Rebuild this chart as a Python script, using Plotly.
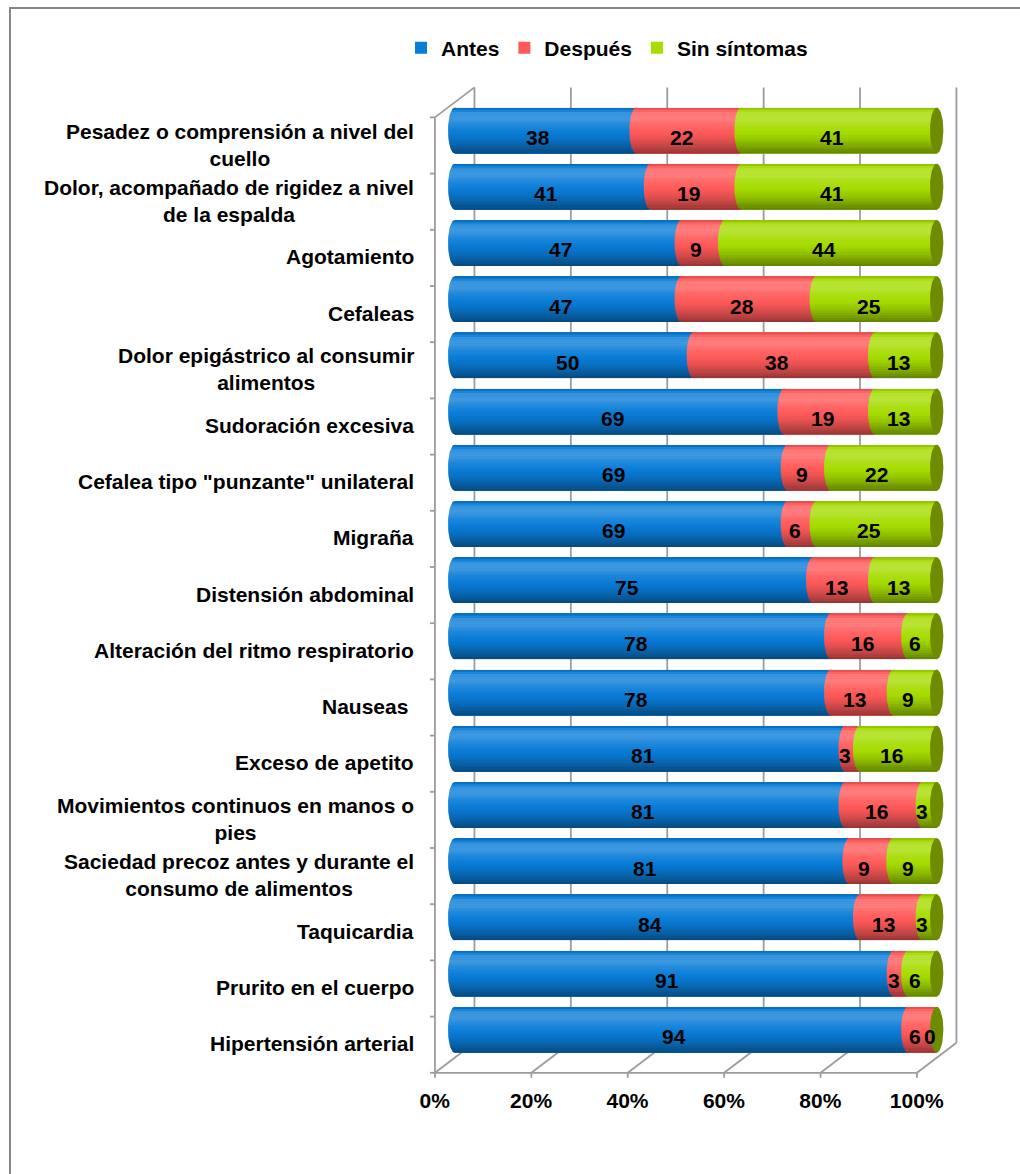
import numpy as np
import plotly.graph_objects as go

# ---- data -------------------------------------------------------------
categories = [
    "Pesadez o comprensión a nivel del<br>cuello",
    "Dolor, acompañado de rigidez a nivel<br>de la espalda",
    "Agotamiento",
    "Cefaleas",
    "Dolor epigástrico al consumir<br>alimentos",
    "Sudoración excesiva",
    "Cefalea tipo \"punzante\" unilateral",
    "Migraña",
    "Distensión abdominal",
    "Alteración del ritmo respiratorio",
    "Nauseas\u00a0",
    "Exceso de apetito",
    "Movimientos continuos en manos o<br>pies",
    "Saciedad precoz antes y durante el<br>consumo de alimentos",
    "Taquicardia",
    "Prurito en el cuerpo",
    "Hipertensión arterial",
]
antes = [38, 41, 47, 47, 50, 69, 69, 69, 75, 78, 78, 81, 81, 81, 84, 91, 94]
despues = [22, 19, 9, 28, 38, 19, 9, 6, 13, 16, 13, 3, 16, 9, 13, 3, 6]
sin_sintomas = [41, 41, 44, 25, 13, 13, 22, 25, 13, 6, 9, 16, 3, 9, 3, 6, 0]
series_names = ["Antes", "Después", "Sin síntomas"]
x_ticks = [0, 20, 40, 60, 80, 100]
x_tick_labels = ["0%", "20%", "40%", "60%", "80%", "100%"]

# ---- page / plot geometry (pixels) ------------------------------------
W, H = 1020, 1174
ML, MR, MT, MB = 420, 50, 80, 92
plot_w = W - ML - MR
plot_h = H - MT - MB

PX_PER_PCT = 4.82      # horizontal scale of the percent axis
X0_PX = 454.7          # pixel position of 0 %
ROW_PX = 56.2          # distance between rows
ROW0_PX = 130.5        # centre of the first row
BAR_W = 46 / ROW_PX    # cylinder thickness in row units
CAP_A = 6.7 / PX_PER_PCT   # half width of the elliptic ends
DX = 19.75 / PX_PER_PCT    # half depth of the 3-D box (x)
DY = 15 / ROW_PX           # half depth of the 3-D box (y)
TICK_X = 5 / PX_PER_PCT
TICK_Y = 5 / ROW_PX

x_range = [(ML - X0_PX) / PX_PER_PCT, (W - MR - X0_PX) / PX_PER_PCT]
y_range = [(MT + plot_h - ROW0_PX) / ROW_PX, (MT - ROW0_PX) / ROW_PX]

n = len(categories)
rows = list(range(n))
table = np.array([antes, despues, sin_sintomas], dtype=float)
pct = table / table.sum(axis=0) * 100
starts = np.vstack([np.zeros(n), np.cumsum(pct, axis=0)[:-1]])

colors = ["#0A7DD8", "#FF5A5A", "#A6DC00"]
cap_color = "#6E8C00"
line_col = "#9C9C9C"
FONT = "Liberation Sans, Arial, sans-serif"

fig = go.Figure()

# stacked 100 % bars
for name, vals, col in zip(series_names, [antes, despues, sin_sintomas], colors):
    fig.add_trace(go.Bar(
        y=rows, x=vals, name=name, orientation="h", width=BAR_W,
        marker=dict(color=col, line=dict(width=0)), hoverinfo="skip",
    ))


def ellipse(cx, cy, a, b, m=60):
    th = np.linspace(0, 2 * np.pi, m)
    return list(cx + a * np.cos(th)), list(cy + b * np.sin(th))


# rounded left ends of every segment
for s in range(3):
    xs, ys = [], []
    for i in rows:
        if table[s, i] <= 0:
            continue
        ex, ey = ellipse(starts[s, i], i, CAP_A, BAR_W / 2)
        xs += ex + [None]
        ys += ey + [None]
    fig.add_trace(go.Scatter(
        x=xs, y=ys, mode="lines", line=dict(width=0), fill="toself",
        fillcolor=colors[s], hoverinfo="skip", showlegend=False,
    ))

# cylinder shading: light band near the top, darkening towards the bottom
prof_f = [0.0, 0.05, 0.12, 0.25, 0.40, 0.55, 0.70, 0.85, 1.0]
prof_v = [-0.20, 0.0, 0.18, 0.22, 0.08, 0.0, -0.10, -0.25, -0.42]
edges = np.linspace(0, 1, 21)
for k in range(len(edges) - 1):
    f0, f1 = edges[k], edges[k + 1]
    v = float(np.interp((f0 + f1) / 2, prof_f, prof_v))
    if abs(v) < 0.01:
        continue
    fc = f"rgba(255,255,255,{v:.3f})" if v > 0 else f"rgba(0,0,0,{-v:.3f})"
    fs = np.linspace(f0, f1, 6)
    t = 2 * fs - 1
    xl = -CAP_A * np.sqrt(np.clip(1 - t ** 2, 0, None))
    xs, ys = [], []
    for i in rows:
        yy = i - BAR_W / 2 + fs * BAR_W
        xs += list(xl) + [100, 100, None]
        ys += list(yy) + [yy[-1], yy[0], None]
    fig.add_trace(go.Scatter(
        x=xs, y=ys, mode="lines", line=dict(width=0), fill="toself",
        fillcolor=fc, hoverinfo="skip", showlegend=False,
    ))

# dark elliptic caps at the right end
xs, ys = [], []
for i in rows:
    ex, ey = ellipse(100, i, CAP_A, BAR_W / 2)
    xs += ex + [None]
    ys += ey + [None]
fig.add_trace(go.Scatter(
    x=xs, y=ys, mode="lines", line=dict(width=0), fill="toself",
    fillcolor=cap_color, hoverinfo="skip", showlegend=False,
))

# value labels
for s in range(3):
    for i in rows:
        fig.add_annotation(
            x=starts[s, i] + pct[s, i] / 2, y=i, xref="x", yref="y",
            text=str(int(table[s, i])), showarrow=False,
            xshift=-7, yshift=-7,
            font=dict(size=21, color="black", family=FONT, weight="bold"),
        )

# category labels (centred lines, right aligned block)
for i, lab in enumerate(categories):
    fig.add_annotation(
        x=(416 - ML) / plot_w, xref="paper", y=i, yref="y", yshift=-14,
        text=lab, xanchor="right", yanchor="middle", align="center",
        showarrow=False,
        font=dict(size=21, color="black", family=FONT, weight="bold"),
    )

# 3-D box: back wall gridlines, floor and left wall
shapes = []
def seg(x0, y0, x1, y1):
    shapes.append(dict(type="line", xref="x", yref="y", x0=x0, y0=y0,
                       x1=x1, y1=y1, layer="below",
                       line=dict(color=line_col, width=1.8)))

top, bot = -0.5, n - 0.5
for v in x_ticks:
    seg(v + DX, top - DY, v + DX, bot - DY)          # back wall gridline
    seg(v - DX, bot + DY, v + DX, bot - DY)          # floor line
    seg(v - DX, bot + DY, v - DX, bot + DY + TICK_Y)  # floor tick
seg(-DX, bot + DY, 100 - DX, bot + DY)               # front floor edge
seg(-DX, top + DY, -DX, bot + DY)                    # left wall front edge
seg(-DX, top + DY, DX, top - DY)                     # left wall top edge
for k in range(n + 1):
    seg(-DX - TICK_X, top + k + DY, -DX, top + k + DY)

# outer chart border
def px_to_paper_x(px):
    return (px - ML) / plot_w

def px_to_paper_y(py):
    return 1 - (py - MT) / plot_h

shapes.append(dict(
    type="rect", xref="paper", yref="paper",
    x0=px_to_paper_x(10), x1=px_to_paper_x(1040),
    y0=px_to_paper_y(1190), y1=px_to_paper_y(8),
    line=dict(color="#868686", width=2), fillcolor="rgba(0,0,0,0)",
    layer="below",
))

fig.update_layout(
    width=W, height=H,
    margin=dict(l=ML, r=MR, t=MT, b=MB),
    paper_bgcolor="white", plot_bgcolor="white",
    barmode="stack", barnorm="percent",
    font=dict(family=FONT, size=21, color="black", weight="bold"),
    shapes=shapes,
    showlegend=True,
    legend=dict(
        orientation="h", traceorder="normal",
        xref="container", yref="container",
        x=607 / W, xanchor="center", y=1 - 48 / H, yanchor="middle",
        font=dict(size=21, family=FONT, weight="bold"),
        bgcolor="rgba(0,0,0,0)", itemclick=False, itemdoubleclick=False,
    ),
    xaxis=dict(
        range=x_range, tickvals=x_ticks, ticktext=x_tick_labels,
        showgrid=False, zeroline=False, showline=False, ticks="",
        ticklabelshift=-20, ticklabelstandoff=4,
        tickfont=dict(size=21, family=FONT, weight="bold"),
        fixedrange=True,
    ),
    yaxis=dict(
        range=y_range, showticklabels=False, showgrid=False,
        zeroline=False, showline=False, ticks="", fixedrange=True,
    ),
)

fig.write_html("out.html")
